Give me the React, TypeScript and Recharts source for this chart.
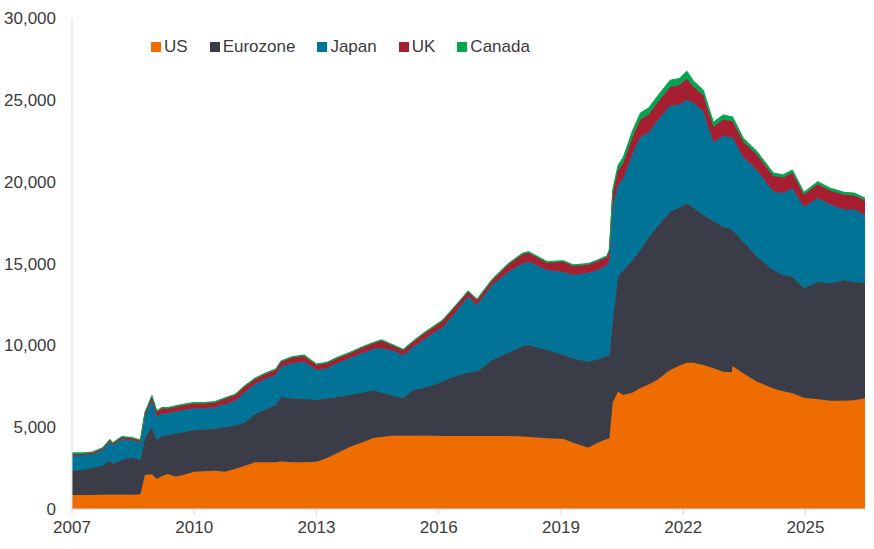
import React from "react";
import {
  Area,
  AreaChart,
  XAxis,
  YAxis,
} from "recharts";

// Central bank balance sheets, USD bn, stacked.
const DATES = [
  2007.0, 2007.25, 2007.5, 2007.75, 2007.93, 2008.0, 2008.22, 2008.47, 2008.68, 2008.79,
  2008.96, 2009.08, 2009.2, 2009.35, 2009.55, 2009.75, 2010.0, 2010.25, 2010.5, 2010.75,
  2011.0, 2011.25, 2011.5, 2011.75, 2012.0, 2012.13, 2012.4, 2012.7, 2013.0, 2013.25,
  2013.5, 2013.83, 2014.1, 2014.4, 2014.6, 2014.85, 2015.13, 2015.37, 2015.6, 2015.87,
  2016.1, 2016.36, 2016.72, 2016.94, 2017.31, 2017.71, 2018.05, 2018.2, 2018.66, 2019.06,
  2019.3, 2019.67, 2019.9, 2020.13, 2020.19, 2020.27, 2020.4, 2020.53, 2020.75, 2020.95,
  2021.15, 2021.36, 2021.68, 2021.9, 2022.09, 2022.25, 2022.49, 2022.74, 2022.98, 2023.19,
  2023.21, 2023.47, 2023.81, 2024.21, 2024.45, 2024.68, 2024.96, 2025.3, 2025.61, 2025.95,
  2026.2, 2026.46,
];

const US = [
  860, 860, 860, 870, 870, 870, 870, 870, 900, 2080,
  2120, 1830, 2000, 2140, 1970, 2100, 2280, 2300, 2340, 2280,
  2450, 2650, 2850, 2850, 2850, 2900, 2850, 2850, 2890, 3100,
  3400, 3800, 4050, 4340, 4400, 4470, 4480, 4480, 4470, 4470,
  4460, 4460, 4460, 4460, 4460, 4460, 4430, 4400, 4330, 4280,
  4050, 3750, 4050, 4280, 4300, 6500, 7170, 6960, 7100, 7390,
  7600, 7880, 8490, 8750, 8940, 8930, 8800, 8600, 8390, 8350,
  8740, 8290, 7780, 7370, 7200, 7070, 6800, 6700, 6620, 6620,
  6650, 6760,
];

const EUROZONE = [
  1480, 1540, 1640, 1780, 2120, 1880, 2120, 2290, 2100, 2240,
  2870, 2390, 2450, 2380, 2650, 2600, 2550, 2550, 2560, 2720,
  2650, 2650, 2950, 3250, 3500, 3940, 3900, 3870, 3770, 3650,
  3450, 3160, 3050, 2930, 2700, 2480, 2300, 2790, 2930, 3100,
  3340, 3620, 3870, 3930, 4640, 5090, 5520, 5620, 5380, 5130,
  5150, 5250, 5100, 5070, 5100, 5000, 7020, 7640, 8100, 8430,
  9000, 9370, 9670, 9650, 9730, 9470, 9160, 9000, 8860, 8750,
  8300, 8040, 7630, 7230, 7100, 7120, 6700, 7190, 7170, 7370,
  7200, 7060,
];

const JAPAN = [
  960, 900, 840, 950, 1120, 1150, 1290, 1060, 1050, 1320,
  1630, 1420, 1390, 1320, 1330, 1350, 1320, 1300, 1300, 1400,
  1500, 1850, 1850, 1850, 1850, 1850, 2150, 2280, 1840, 1850,
  2050, 2260, 2400, 2500, 2730, 2750, 2620, 2630, 2900, 3180,
  3300, 3770, 4640, 4070, 4580, 4950, 5050, 5090, 4890, 5090,
  5100, 5430, 5450, 5550, 5800, 7000, 5610, 5600, 6500, 6930,
  6400, 6450, 6490, 6300, 6330, 6400, 6340, 4800, 5550, 5600,
  5660, 5170, 5290, 4800, 5000, 5410, 4950, 5110, 4810, 4310,
  4450, 4140,
];

const UK = [
  80, 80, 90, 90, 100, 100, 100, 100, 120, 200,
  250, 300, 300, 300, 300, 300, 300, 300, 300, 330,
  350, 350, 300, 300, 300, 300, 350, 350, 300, 300,
  300, 300, 330, 350, 450, 300, 300, 300, 350, 350,
  400, 380, 300, 300, 300, 450, 550, 550, 450, 600,
  550, 500, 550, 500, 600, 800, 900, 950, 1000, 1050,
  1100, 1100, 1150, 1200, 1300, 1000, 1000, 950, 1000, 1000,
  1000, 950, 950, 950, 950, 950, 750, 850, 850, 900,
  850, 900,
];

const CANADA = [
  50, 50, 50, 50, 50, 50, 50, 50, 50, 60,
  60, 60, 60, 60, 60, 60, 60, 60, 60, 60,
  60, 60, 60, 60, 60, 60, 60, 60, 60, 60,
  60, 60, 60, 60, 60, 60, 60, 60, 60, 60,
  60, 60, 60, 60, 60, 60, 70, 70, 70, 70,
  70, 70, 70, 70, 100, 200, 300, 350, 380, 400,
  400, 400, 400, 400, 450, 350, 300, 280, 280, 260,
  260, 220, 200, 180, 170, 160, 150, 150, 150, 150,
  150, 140,
];

const YEAR_TICKS = [2007, 2010, 2013, 2016, 2019, 2022, 2025];
const VALUE_TICKS = [0, 5000, 10000, 15000, 20000, 25000, 30000];

const SERIES = [
  { key: "us", name: "US", color: "#EE6C00" },
  { key: "eurozone", name: "Eurozone", color: "#3A3D48" },
  { key: "japan", name: "Japan", color: "#007396" },
  { key: "uk", name: "UK", color: "#A61F30" },
  { key: "canada", name: "Canada", color: "#00A650" },
];

const rows = DATES.map((d, i) => ({
  date: d,
  us: US[i],
  eurozone: EUROZONE[i],
  japan: JAPAN[i],
  uk: UK[i],
  canada: CANADA[i],
}));

const FONT = '"Liberation Sans", Arial, sans-serif';
const TEXT = "#3b3b3b";

// Key sits inside the plot area, so it's overlaid rather than given layout space.
function LegendRow() {
  return (
    <div
      style={{
        position: "absolute",
        top: 37,
        left: 151,
        display: "flex",
        fontFamily: FONT,
        fontSize: 17,
        lineHeight: "20px",
        color: TEXT,
      }}
    >
      {SERIES.map((s) => (
        <div key={s.key} style={{ display: "flex", alignItems: "center", marginRight: 22 }}>
          <span
            style={{
              display: "inline-block",
              width: 10,
              height: 10,
              background: s.color,
              marginRight: 3,
            }}
          />
          <span>{s.name}</span>
        </div>
      ))}
    </div>
  );
}

export default function App() {
  return (
    <div style={{ position: "absolute", left: 0, top: 0, width: 874, height: 549, background: "#fff" }}>
      <AreaChart
        width={874}
        height={549}
        data={rows}
        margin={{ top: 18, right: 9, left: 0, bottom: 0 }}
      >
        <XAxis
          dataKey="date"
          type="number"
          domain={[2007, "dataMax"]}
          ticks={YEAR_TICKS}
          height={40}
          stroke="#d9d9d9"
          tickSize={6}
          tickMargin={6}
          tick={{ fill: TEXT, fontSize: 17, fontFamily: FONT }}
        />
        <YAxis
          type="number"
          domain={[0, 30000]}
          ticks={VALUE_TICKS}
          width={72}
          stroke="#d9d9d9"
          tickLine={false}
          tickSize={0}
          tickMargin={16}
          tickFormatter={(v: number) => v.toLocaleString("en-US")}
          tick={{ fill: TEXT, fontSize: 17, fontFamily: FONT }}
        />
        {SERIES.map((s) => (
          <Area
            key={s.key}
            type="linear"
            dataKey={s.key}
            name={s.name}
            stackId="cb"
            fill={s.color}
            fillOpacity={1}
            stroke={s.color}
            strokeWidth={1}
            isAnimationActive={false}
          />
        ))}
      </AreaChart>
      <LegendRow />
    </div>
  );
}
